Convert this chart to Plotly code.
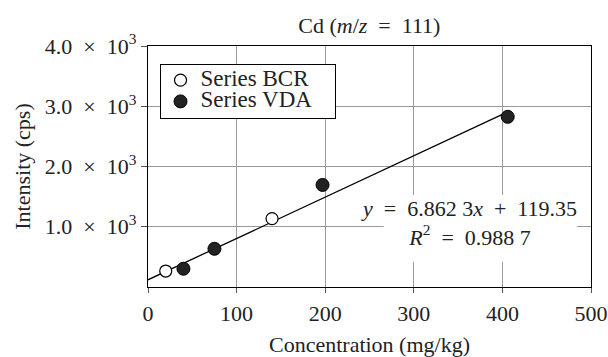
import plotly.graph_objects as go

# Data
bcr_x = [20, 140]
bcr_y = [265, 1136]
vda_x = [40, 75, 197, 406]
vda_y = [303, 634, 1694, 2825]
slope = 6.8623
intercept = 119.35
fit_x = [0, 400]
fit_y = [slope * v + intercept for v in fit_x]
x_ticks = [0, 100, 200, 300, 400, 500]
y_ticks = [1000, 2000, 3000, 4000]
EN = "\u2002"
y_tick_labels = [f"{v/1000:.1f}{EN}×{EN}10<sup>3</sup>" for v in y_ticks]

FONT = "Liberation Serif, Times New Roman, serif"
FS = 22
TXT = "#222222"

fig = go.Figure()
fig.add_trace(go.Scatter(x=fit_x, y=fit_y, mode="lines",
                         line=dict(color="black", width=1.3),
                         showlegend=False, hoverinfo="skip"))
fig.add_trace(go.Scatter(x=bcr_x, y=bcr_y, mode="markers",
                         name='<span style="font-size:23px">Series BCR</span>\u2003\u2002',
                         marker=dict(symbol="circle", size=12, color="white",
                                     line=dict(color="black", width=1.2))))
fig.add_trace(go.Scatter(x=vda_x, y=vda_y, mode="markers",
                         name='<span style="font-size:23px">Series VDA</span>',
                         marker=dict(symbol="circle", size=13, color="#222222",
                                     line=dict(color="black", width=1))))

# white box behind the equation (hides gridlines, not traces)
fig.add_shape(type="rect", x0=266, x1=484, y0=418, y1=1528,
              xref="x", yref="y", layer="between",
              fillcolor="white", line=dict(width=0))

fig.add_annotation(
    x=362, y=1070, xref="x", yref="y", xanchor="center", yanchor="middle",
    text=(f"<i>y</i>{EN}={EN}6.862 3<i>x</i>{EN}+{EN}119.35<br>"
          f"<i>R</i><sup>2</sup>{EN}={EN}0.988 7"),
    showarrow=False, align="center",
    font=dict(family=FONT, size=FS, color=TXT),
)

fig.update_layout(
    width=608, height=357,
    margin=dict(l=148, r=17, t=46, b=70),
    paper_bgcolor="white", plot_bgcolor="white",
    font=dict(family=FONT, size=FS, color=TXT),
    title=dict(text=f"Cd (<i>m</i>/<i>z</i>{EN}={EN}111)", x=0.6075, xanchor="center",
               y=0.93, yanchor="middle", font=dict(family=FONT, size=FS, color=TXT)),
    legend=dict(x=0.026, y=0.927, xanchor="left", yanchor="top",
                bordercolor="black", borderwidth=1, bgcolor="white",
                font=dict(family=FONT, size=14, color=TXT), itemwidth=30,
                tracegroupgap=0),
    xaxis=dict(range=[0, 500], tickvals=x_ticks, showgrid=True,
               gridcolor="#9a9a9a", gridwidth=1, zeroline=False,
               showline=True, linecolor="black", linewidth=1.3, mirror=True,
               ticks="outside", ticklen=5, tickcolor="#555555",
               ticklabelstandoff=1, automargin=False,
               title=dict(text="Concentration (mg/kg)", standoff=16,
                          font=dict(family=FONT, size=FS, color=TXT))),
    yaxis=dict(range=[0, 4000], tickvals=y_ticks, ticktext=y_tick_labels,
               showgrid=True, gridcolor="#9a9a9a", gridwidth=1, zeroline=False,
               showline=True, linecolor="black", linewidth=1.3, mirror=True,
               ticks="outside", ticklen=6, tickcolor="#555555",
               automargin=False,
               title=dict(text="Intensity (cps)", standoff=8,
                          font=dict(family=FONT, size=FS, color=TXT))),
)

fig.write_html("out.html")
